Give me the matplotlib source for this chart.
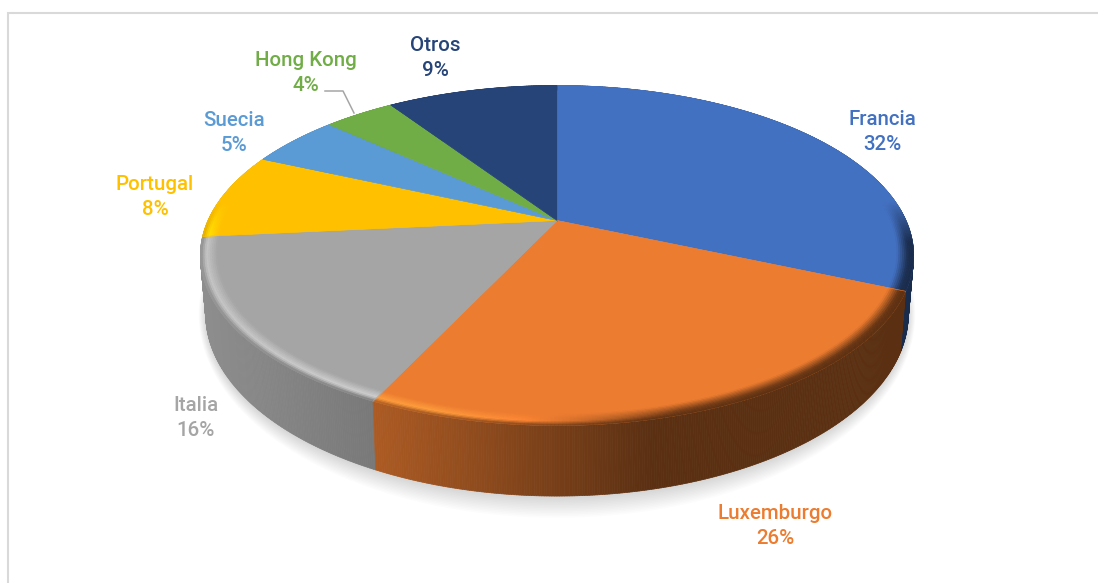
import matplotlib

matplotlib.use("Agg")
import matplotlib.pyplot as plt
import numpy as np
from matplotlib.collections import PolyCollection
from matplotlib.colors import to_rgb

categories = ["Francia", "Luxemburgo", "Italia", "Portugal", "Suecia", "Hong Kong", "Otros"]
shares = [31.5, 25.5, 16.4, 8.2, 5.0, 3.9, 9.4]
colors = ["#4371C2", "#EC7C30", "#A5A5A5", "#FFC000", "#5B9BD5", "#70AD47", "#264478"]
label_x = [882, 775, 196, 155, 234, 306, 435]
label_y = [132, 526, 418, 197, 133, 73, 58]

CX, CY = 557.0, 220.5
AX_X, AX_Y = 349.0, 162.8
PERSP = 0.206
DEPTH = 56.0
LOWER_SCALE = 0.985
WIDTH, HEIGHT = 1098, 583


def project(theta, r=1.0, z=0.0):
    """Map pie angle (clockwise from top), radius and drop to pixel coordinates."""
    u = r * np.sin(theta)
    v = r * np.cos(theta)
    w = 1 + PERSP * v
    return CX + AX_X * u / w, CY - AX_Y * v / w + z / w


def lower_rim(theta):
    x, y = project(theta, z=DEPTH)
    return CX + (x - CX) * LOWER_SCALE, y


def wall_shade(x):
    return np.interp(x, [200, 375, 490, 650, 915], [0.86, 0.73, 0.59, 0.385, 0.385])


def rim_gain(x):
    return np.interp(x, [200, 330, 430, 520, 600, 680, 915], [1.2, 1.25, 1.28, 1.1, 0.8, 0.5, 0.42])


def draw_shadow(ax):
    theta = np.linspace(0, 2 * np.pi, 361)
    x, y = lower_rim(theta)
    for e in np.linspace(20, 0, 14):
        sx = CX + (x - CX) * (1 + e / 1000)
        sy = 320 + (y - 320) * (1 + e / 170) + 1
        ax.fill(sx, sy, color="#000000", alpha=0.011, lw=0, zorder=1)


def draw_walls(ax, edges):
    polys, fills, depth = [], [], []
    for i, color in enumerate(colors):
        base = np.array(to_rgb(color))
        n = max(int(3 * np.degrees(edges[i + 1] - edges[i])), 2)
        t = np.linspace(edges[i], edges[i + 1], n + 1)
        x0, y0 = project(t)
        x1, y1 = lower_rim(t)
        for k in range(n):
            polys.append([(x0[k], y0[k]), (x0[k + 1], y0[k + 1]), (x1[k + 1], y1[k + 1]), (x1[k], y1[k])])
            fills.append(base * wall_shade((x0[k] + x0[k + 1]) / 2))
            depth.append(np.cos((t[k] + t[k + 1]) / 2))
    order = np.argsort(depth)[::-1]
    polys = [polys[j] for j in order]
    fills = [fills[j] for j in order]
    ax.add_collection(PolyCollection(polys, facecolors=fills, edgecolors=fills, linewidths=0.5, zorder=2))


def draw_tops(ax, edges):
    radii = np.linspace(0.955, 1.0, 10)
    for i, color in enumerate(colors):
        base = np.array(to_rgb(color))
        n = max(int(2 * np.degrees(edges[i + 1] - edges[i])), 2)
        t = np.linspace(edges[i], edges[i + 1], n + 1)
        x, y = project(t)
        ax.fill(np.r_[CX, x], np.r_[CY, y], color=color, lw=0.3, zorder=3)
        polys, fills = [], []
        for a, b in zip(radii[:-1], radii[1:]):
            xa, ya = project(t, r=a)
            xb, yb = project(t, r=b)
            s = ((a + b) / 2 - radii[0]) / (radii[-1] - radii[0])
            for k in range(n):
                mid = (t[k] + t[k + 1]) / 2
                front = np.clip((0.12 - np.cos(mid)) / 0.25, 0, 1)
                mx = (xa[k] + xa[k + 1]) / 2
                rim = np.clip(base * rim_gain(mx), 0, 1)
                wall = base * wall_shade(mx)
                if s < 0.65:
                    c = base + (rim - base) * (s / 0.65)
                else:
                    c = rim + (wall - rim) * ((s - 0.65) / 0.35)
                c = base + (c - base) * front
                polys.append([(xa[k], ya[k]), (xa[k + 1], ya[k + 1]), (xb[k + 1], yb[k + 1]), (xb[k], yb[k])])
                fills.append(c)
        ax.add_collection(PolyCollection(polys, facecolors=fills, edgecolors=fills, linewidths=0.4, zorder=4))
        ax.plot([CX, x[0]], [CY, y[0]], color=color, lw=0.4, zorder=4)


def main():
    fig = plt.figure(figsize=(WIDTH / 100, HEIGHT / 100), dpi=100)
    ax = fig.add_axes([0, 0, 1, 1])
    ax.set_xlim(0, WIDTH)
    ax.set_ylim(HEIGHT, 0)
    ax.axis("off")

    ax.plot([8, 8, WIDTH], [HEIGHT, 13, 13], color="#d9d9d9", lw=1.5, solid_joinstyle="miter", zorder=0)

    fractions = np.array(shares) / np.sum(shares)
    edges = 2 * np.pi * np.r_[0, np.cumsum(fractions)]

    draw_shadow(ax)
    draw_walls(ax, edges)
    draw_tops(ax, edges)

    ax.plot([325, 343, 354], [91, 91, 113], color="#a6a6a6", lw=1.1, zorder=5)

    for name, value, color, x, y in zip(categories, shares, colors, label_x, label_y):
        ax.text(x, y, f"{name}\n{value:.0f}%", color=color, ha="center", va="center",
                fontsize=14.8, family="Roboto", weight="medium", linespacing=1.4, zorder=6)

    fig.savefig("out.png", dpi=100)


main()
